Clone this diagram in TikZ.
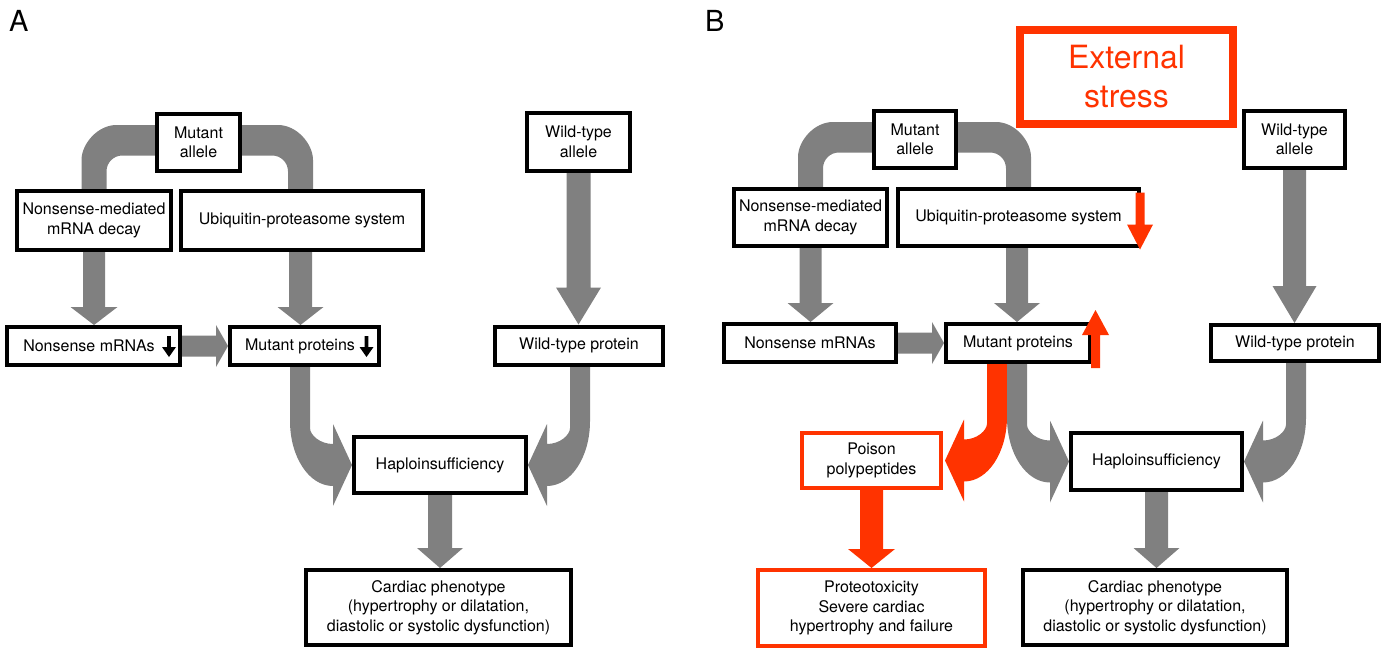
\documentclass[tikz,border=0pt]{standalone}
\usepackage{fontspec}
\setmainfont{TeX Gyre Heros}
\usetikzlibrary{calc}
\definecolor{arrgray}{RGB}{128,128,128}
\definecolor{stressred}{RGB}{255,51,0}
\pgfdeclarelayer{bg}
\pgfsetlayers{bg,main}

% straight block arrows: start, tip, shaft half width, head half width, head length, style
\newcommand{\arrDown}[6]{%
 \fill[#6] let \p1=(#1), \p2=(#2) in
  ({\x1-#3},{\y1}) -- ({\x1-#3},{\y2+#5}) -- ({\x1-#4},{\y2+#5}) -- ({\x1},{\y2})
  -- ({\x1+#4},{\y2+#5}) -- ({\x1+#3},{\y2+#5}) -- ({\x1+#3},{\y1}) -- cycle;}
\newcommand{\arrUp}[6]{%
 \fill[#6] let \p1=(#1), \p2=(#2) in
  ({\x1-#3},{\y1}) -- ({\x1-#3},{\y2-#5}) -- ({\x1-#4},{\y2-#5}) -- ({\x1},{\y2})
  -- ({\x1+#4},{\y2-#5}) -- ({\x1+#3},{\y2-#5}) -- ({\x1+#3},{\y1}) -- cycle;}
\newcommand{\arrRight}[6]{%
 \fill[#6] let \p1=(#1), \p2=(#2) in
  ({\x1},{\y1+#3}) -- ({\x2-#5},{\y1+#3}) -- ({\x2-#5},{\y1+#4}) -- ({\x2},{\y1})
  -- ({\x2-#5},{\y1-#4}) -- ({\x2-#5},{\y1-#3}) -- ({\x1},{\y1-#3}) -- cycle;}
% curved band from a node bottom into the side of another node: start, tip, side (1 or (-1)), style
\newcommand{\curvArrow}[4]{%
 \fill[#4] let \p1=(#1), \p2=(#2) in
  ({\x2-#3*62pt},{\y1+2pt}) -- ({\x2-#3*62pt},{\y2+44pt})
  .. controls ({\x2-#3*62pt},{\y2+8pt}) and ({\x2-#3*43pt},{\y2-21pt}) .. ({\x2-#3*19pt},{\y2-21pt})
  -- ({\x2-#3*19pt},{\y2-41pt}) -- ({\x2},{\y2}) -- ({\x2-#3*19pt},{\y2+41pt}) -- ({\x2-#3*19pt},{\y2+21pt})
  .. controls ({\x2-#3*32pt},{\y2+21pt}) and ({\x2-#3*42pt},{\y2+30pt}) .. ({\x2-#3*42pt},{\y2+37pt})
  -- ({\x2-#3*42pt},{\y1+2pt}) -- cycle;}
% bent band from a node side down to another node top: start, end, side (1 or (-1)), style
\newcommand{\topBand}[4]{%
 \fill[#4] let \p1=(#1), \p2=(#2) in
  ({\x1-#3*5pt},{\y1+17.5pt}) -- ({\x2+#3*12.5pt-#3*35pt},{\y1+17.5pt})
  .. controls ({\x2+#3*12.5pt-#3*16pt},{\y1+17.5pt}) and ({\x2+#3*12.5pt},{\y1-1.5pt}) .. ({\x2+#3*12.5pt},{\y1-17.5pt})
  -- ({\x2+#3*12.5pt},{\y2-3pt}) -- ({\x2-#3*12.5pt},{\y2-3pt})
  -- ({\x2-#3*12.5pt},{\y1-29pt})
  .. controls ({\x2-#3*12.5pt},{\y1-20pt}) and ({\x2-#3*19.5pt},{\y1-13pt}) .. ({\x2-#3*28.5pt},{\y1-13pt})
  -- ({\x1-#3*5pt},{\y1-13pt}) -- cycle;}

\tikzset{
 box/.style={draw=black, line width=4pt, fill=white, align=center, inner sep=0pt,
   font=\fontsize{16}{19.5}\selectfont},
 redbox/.style={box, draw=stressred},
 garr/.style={fill=arrgray},
 rarr/.style={fill=stressred},
 karr/.style={fill=black},
 panel/.style={font=\fontsize{29}{30}\selectfont, inner sep=0pt, anchor=base west},
}

\begin{document}
\begin{tikzpicture}[x=1pt,y=-1pt]
\useasboundingbox (0,0) rectangle (1388,653);

% panel labels
\node[panel] (labA) at (9,31) {A};
\node[panel] (labB) at (705,31) {B};

% ---------- Panel A ----------
\node[box, minimum width=83, minimum height=57] (maA) at (198.5,142.5) {Mutant\\allele};
\node[box, minimum width=154, minimum height=59] (nmdA) at (94,220.5) {Nonsense-mediated\\mRNA decay};
\node[box, minimum width=242, minimum height=59] (upsA) at (302,220.5) {Ubiquitin-proteasome system};
\node[box, minimum width=173, minimum height=38] (nmA) at (93.5,346) {Nonsense mRNAs\hspace{9pt}};
\node[box, minimum width=149, minimum height=38] (mpA) at (304.5,346) {Mutant proteins\hspace{9pt}};
\node[box, minimum width=103, minimum height=58] (waA) at (578.5,142) {Wild-type\\allele};
\node[box, minimum width=168, minimum height=38] (wpA) at (579,345.5) {Wild-type protein};
\node[box, minimum width=172, minimum height=56] (hA) at (440,465) {Haploinsufficiency};
\node[box, minimum width=265, minimum height=75] (cA) at (438.5,607.5) {Cardiac phenotype\\(hypertrophy or dilatation,\\diastolic or systolic dysfunction)};

% small black arrows inside boxes
\arrDown{$(nmA.east)+(-13,-10)$}{$(nmA.east)+(-13,11)$}{1.8pt}{7pt}{10pt}{karr}
\arrDown{$(mpA.east)+(-14.5,-10)$}{$(mpA.east)+(-14.5,11)$}{1.8pt}{7pt}{10pt}{karr}

% ---------- Panel B ----------
\node[box, minimum width=82, minimum height=57] (maB) at (915,139.5) {Mutant\\allele};
\node[box, minimum width=153, minimum height=57] (nmdB) at (810.5,217.5) {Nonsense-mediated\\mRNA decay};
\node[box, minimum width=241, minimum height=57] (upsB) at (1018.5,217.5) {Ubiquitin-proteasome system};
\node[box, minimum width=172, minimum height=38] (nmB) at (810,343) {Nonsense mRNAs};
\node[box, minimum width=144, minimum height=38] (mpB) at (1018,343) {Mutant proteins};
\node[box, minimum width=101, minimum height=57] (waB) at (1294.5,139.5) {Wild-type\\allele};
\node[box, minimum width=168, minimum height=36] (wpB) at (1295,343) {Wild-type protein};
\node[box, draw=stressred, line width=8pt, minimum width=213, minimum height=94,
      text=stressred, font=\fontsize{32}{39}\selectfont] (es) at (1126.5,77) {External\\stress};
\node[redbox, minimum width=139, minimum height=55] (poB) at (871.5,460.5) {Poison\\polypeptides};
\node[redbox, minimum width=227, minimum height=76] (ptB) at (871.5,608) {Proteotoxicity\\Severe cardiac\\hypertrophy and failure};
\node[box, minimum width=171, minimum height=57] (hB) at (1156.5,461.5) {Haploinsufficiency};
\node[box, minimum width=264, minimum height=75] (cB) at (1155,607.5) {Cardiac phenotype\\(hypertrophy or dilatation,\\diastolic or systolic dysfunction)};

% red arrows over boxes
\arrDown{$(upsB.east)+(-1,-25)$}{$(upsB.east)+(-1,32)$}{4.5pt}{13pt}{25pt}{rarr}
\arrUp{$(mpB.east)+(3.5,25)$}{$(mpB.east)+(3.5,-33)$}{4.5pt}{13.5pt}{25pt}{rarr}

% ---------- connectors (behind boxes) ----------
\begin{pgfonlayer}{bg}
 % panel A
 \topBand{maA.west}{nmdA.north}{(-1)}{garr}
 \topBand{maA.east}{$(upsA.north)+(-1.5,0)$}{1}{garr}
 \arrDown{nmdA.south}{nmA.north}{11pt}{23.5pt}{18pt}{garr}
 \arrDown{$(upsA.south)+(-1.5,0)$}{mpA.north}{11.5pt}{23pt}{18pt}{garr}
 \arrRight{nmA.east}{mpA.west}{10.5pt}{21pt}{12pt}{garr}
 \arrDown{waA.south}{wpA.north}{12pt}{22.5pt}{37pt}{garr}
 \curvArrow{mpA.south}{hA.west}{1}{garr}
 \curvArrow{wpA.south}{hA.east}{(-1)}{garr}
 \arrDown{hA.south}{cA.north}{12pt}{23pt}{20pt}{garr}
 % panel B
 \topBand{maB.west}{nmdB.north}{(-1)}{garr}
 \topBand{maB.east}{upsB.north}{1}{garr}
 \arrDown{nmdB.south}{nmB.north}{11pt}{23pt}{19pt}{garr}
 \arrDown{$(upsB.south)+(-1.5,0)$}{mpB.north}{11pt}{23pt}{19pt}{garr}
 \arrRight{nmB.east}{mpB.west}{10.5pt}{21pt}{12pt}{garr}
 \arrDown{waB.south}{wpB.north}{11.5pt}{22pt}{37pt}{garr}
 \curvArrow{mpB.south}{$(poB.east)+(2,0)$}{(-1)}{rarr}
 \curvArrow{mpB.south}{hB.west}{1}{garr}
 \curvArrow{wpB.south}{hB.east}{(-1)}{garr}
 \arrDown{hB.south}{cB.north}{11.5pt}{23pt}{20pt}{garr}
 \arrDown{poB.south}{ptB.north}{11.5pt}{23.5pt}{19pt}{rarr}
\end{pgfonlayer}
\end{tikzpicture}
\end{document}
